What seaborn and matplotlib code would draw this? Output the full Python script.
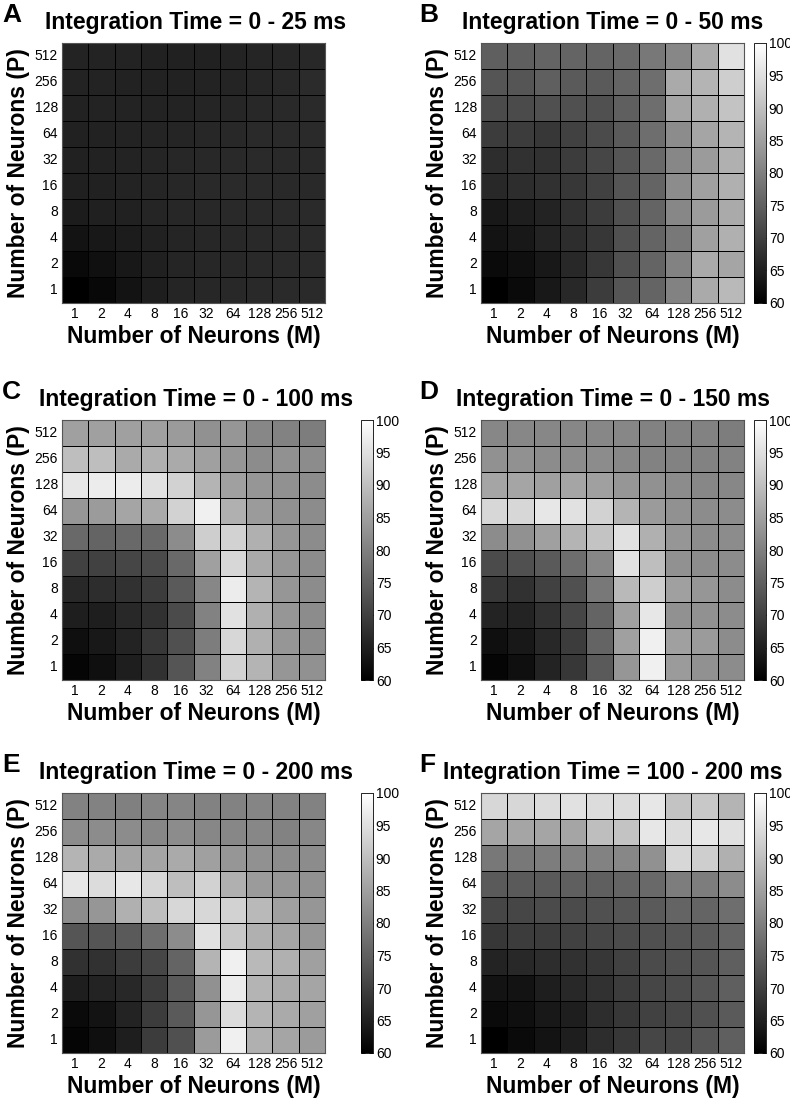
import numpy as np
import pandas as pd
import matplotlib
matplotlib.use("Agg")
import matplotlib.pyplot as plt
import seaborn as sns

sns.set_theme(style="white")
plt.rcParams['font.family'] = ['Liberation Sans', 'DejaVu Sans']
for key in ["text.color", "axes.labelcolor", "xtick.color", "ytick.color"]:
    plt.rcParams[key] = "black"

# neuron counts
n_m = [1, 2, 4, 8, 16, 32, 64, 128, 256, 512]
n_p = [512, 256, 128, 64, 32, 16, 8, 4, 2, 1]   # rows, top to bottom

titles = ["Integration Time = 0 - 25 ms", "Integration Time = 0 - 50 ms",
          "Integration Time = 0 - 100 ms", "Integration Time = 0 - 150 ms",
          "Integration Time = 0 - 200 ms", "Integration Time = 100 - 200 ms"]
letters = ["A", "B", "C", "D", "E", "F"]

# decoding performance (%), rows P = 512 ... 1, columns M = 1 ... 512
perf_a = [
    [65.5, 65.5, 65.5, 65.3, 65.2, 65.3, 65.5, 65.8, 66.0, 66.3],
    [65.5, 65.5, 65.4, 65.4, 65.4, 65.5, 65.7, 66.0, 66.3, 66.8],
    [65.4, 65.5, 65.5, 65.5, 65.6, 65.8, 66.0, 66.3, 66.5, 66.7],
    [65.2, 65.4, 65.5, 65.7, 65.9, 66.2, 66.4, 66.7, 66.6, 66.6],
    [65.2, 65.4, 65.6, 65.8, 66.1, 66.4, 66.5, 66.6, 66.5, 66.5],
    [65.0, 65.3, 65.6, 65.9, 66.2, 66.5, 66.6, 66.6, 66.5, 66.5],
    [64.5, 65.0, 65.3, 65.8, 66.1, 66.3, 66.5, 66.5, 66.6, 66.6],
    [63.0, 63.8, 64.4, 65.3, 65.9, 66.2, 66.4, 66.5, 66.6, 66.6],
    [61.5, 62.5, 63.8, 65.0, 65.8, 66.2, 66.4, 66.5, 66.6, 66.7],
    [60.0, 61.3, 63.0, 64.8, 65.8, 66.2, 66.4, 66.5, 66.6, 66.6],
]
perf_b = [
    [74.9, 74.9, 75.7, 75.7, 75.7, 76.5, 78.8, 81.2, 86.7, 95.3],
    [73.3, 73.3, 74.9, 74.1, 74.1, 75.7, 77.3, 86.7, 88.2, 92.2],
    [71.8, 71.8, 72.5, 72.5, 72.5, 74.9, 77.3, 85.9, 87.5, 90.6],
    [69.4, 69.4, 68.6, 70.2, 71.8, 74.1, 77.3, 82.0, 85.9, 88.2],
    [67.1, 67.8, 67.8, 69.4, 71.0, 73.3, 76.5, 81.2, 84.3, 87.5],
    [66.3, 67.1, 67.8, 68.6, 70.2, 73.3, 75.7, 82.0, 85.1, 87.5],
    [63.9, 64.7, 65.5, 67.8, 69.4, 72.5, 75.7, 81.2, 84.3, 86.7],
    [63.1, 63.9, 65.5, 67.1, 68.6, 72.5, 75.7, 78.8, 85.1, 87.5],
    [61.6, 62.4, 63.9, 66.3, 68.6, 72.5, 75.7, 80.4, 86.7, 85.9],
    [60.0, 61.6, 63.9, 66.3, 69.4, 73.3, 75.7, 80.4, 86.7, 89.0],
]
perf_c = [
    [85.1, 85.1, 85.1, 85.1, 84.3, 82.7, 83.5, 81.2, 80.4, 79.6],
    [89.8, 89.8, 86.7, 87.5, 86.7, 85.1, 83.5, 82.0, 82.7, 82.0],
    [96.1, 96.9, 96.9, 95.3, 92.9, 88.2, 85.1, 83.5, 82.7, 82.0],
    [83.5, 84.3, 85.9, 86.7, 92.9, 97.6, 87.5, 84.3, 82.7, 82.0],
    [76.5, 75.7, 76.5, 76.5, 82.0, 92.2, 92.9, 87.5, 83.5, 82.0],
    [70.2, 70.2, 71.0, 71.8, 76.5, 85.1, 93.7, 86.7, 83.5, 82.0],
    [66.3, 67.1, 67.8, 69.4, 74.1, 81.2, 96.9, 88.2, 83.5, 82.0],
    [64.7, 64.7, 66.3, 67.8, 71.8, 80.4, 95.3, 87.5, 83.5, 82.0],
    [62.4, 63.9, 65.5, 68.6, 72.5, 79.6, 93.7, 87.5, 83.5, 82.0],
    [60.8, 62.4, 64.7, 67.8, 73.3, 80.4, 92.9, 88.2, 83.5, 82.7],
]
perf_d = [
    [81.2, 81.2, 81.2, 81.2, 81.2, 81.2, 80.4, 80.4, 80.4, 79.6],
    [82.7, 82.7, 82.0, 82.0, 82.0, 81.2, 80.4, 80.4, 80.4, 80.4],
    [85.9, 85.9, 85.1, 85.9, 85.1, 83.5, 82.7, 82.0, 81.2, 81.2],
    [93.7, 93.7, 96.1, 95.3, 92.9, 88.2, 84.3, 82.7, 82.0, 82.0],
    [82.0, 82.7, 85.1, 88.2, 90.6, 95.3, 87.5, 83.5, 82.0, 82.0],
    [71.8, 72.5, 74.1, 77.3, 81.2, 95.3, 89.8, 82.7, 82.0, 82.0],
    [68.6, 67.8, 70.2, 72.5, 78.8, 89.0, 92.2, 85.1, 83.5, 82.0],
    [65.5, 65.5, 67.8, 71.0, 75.7, 85.1, 96.1, 82.7, 82.7, 82.0],
    [62.4, 63.9, 66.3, 69.4, 75.7, 85.1, 97.6, 85.1, 84.3, 82.0],
    [60.8, 62.4, 65.5, 68.6, 74.1, 83.5, 97.6, 84.3, 82.7, 82.0],
]
perf_e = [
    [80.4, 80.4, 80.0, 80.8, 80.8, 80.4, 80.4, 80.8, 80.4, 80.4],
    [82.0, 82.0, 82.0, 81.2, 82.0, 81.2, 81.2, 81.2, 80.4, 81.2],
    [88.2, 86.7, 85.9, 85.9, 86.7, 85.1, 83.5, 82.7, 82.0, 82.0],
    [96.1, 94.5, 96.1, 93.7, 89.8, 92.9, 87.5, 84.3, 83.5, 82.7],
    [82.0, 83.5, 87.5, 89.8, 93.7, 93.7, 92.9, 89.0, 85.1, 83.5],
    [73.3, 73.3, 74.1, 77.3, 82.0, 95.3, 91.4, 87.5, 85.9, 83.5],
    [67.8, 67.8, 69.4, 71.0, 75.7, 88.2, 97.6, 89.0, 87.5, 85.1],
    [64.7, 65.5, 66.3, 69.4, 74.1, 82.7, 96.9, 88.2, 86.7, 85.9],
    [61.6, 63.1, 65.5, 69.4, 74.1, 83.5, 94.5, 88.2, 86.7, 85.1],
    [60.8, 62.4, 64.7, 69.4, 72.5, 84.3, 97.6, 87.5, 85.9, 84.3],
]
perf_f = [
    [93.7, 93.7, 94.5, 95.3, 94.5, 94.5, 96.1, 90.6, 91.4, 88.2],
    [85.9, 85.9, 85.9, 85.9, 89.8, 90.6, 96.1, 94.5, 96.1, 95.3],
    [78.8, 78.8, 79.6, 80.4, 80.4, 81.2, 82.7, 93.7, 92.2, 87.5],
    [74.1, 74.1, 74.1, 74.9, 74.9, 75.7, 76.5, 79.6, 79.6, 82.0],
    [71.0, 71.0, 71.8, 71.8, 72.5, 73.3, 74.1, 75.7, 75.7, 77.3],
    [68.6, 69.4, 69.4, 70.2, 71.0, 71.8, 72.5, 73.3, 74.1, 75.7],
    [65.5, 66.3, 67.1, 67.8, 68.6, 70.2, 71.8, 72.5, 73.3, 74.9],
    [63.1, 63.1, 64.7, 66.3, 67.8, 69.4, 71.0, 71.8, 73.3, 74.9],
    [61.6, 62.4, 63.9, 64.7, 67.1, 68.6, 70.2, 71.0, 72.5, 74.1],
    [60.0, 61.6, 63.1, 64.7, 67.1, 68.6, 71.0, 71.0, 73.3, 74.9],
]
panels = [perf_a, perf_b, perf_c, perf_d, perf_e, perf_f]

W, H = 790, 1100
fig = plt.figure(figsize=(W / 100, H / 100), dpi=100)

def rect(l, t, w, h):
    return [l / W, 1 - (t + h) / H, w / W, h / H]

# pixel layout: heatmap left/top, colorbar left (None = no colorbar)
lefts = [62, 481, 62, 481, 62, 481]
tops = [43, 43, 420, 420, 793, 793]
cb_lefts = [None, 754, 361, 754, 361, 754]
title_x = [196, 613, 196, 613, 196, 613]
letter_x = [2, 419, 2, 419, 2, 419]
hw, hh = 263, 260

for i, vals in enumerate(panels):
    df = pd.DataFrame(vals, index=n_p, columns=n_m)
    ax = fig.add_axes(rect(lefts[i], tops[i], hw, hh))
    if cb_lefts[i] is not None:
        cax = fig.add_axes(rect(cb_lefts[i], tops[i], 12, hh))
        sns.heatmap(df, ax=ax, cmap="gray", vmin=60, vmax=100,
                    linewidths=0.6, linecolor="black", cbar_ax=cax,
                    cbar_kws={"ticks": [60, 65, 70, 75, 80, 85, 90, 95, 100]})
        cb = ax.collections[0].colorbar
        cb.outline.set_edgecolor("black")
        cb.outline.set_linewidth(0.6)
        cax.tick_params(labelsize=10, length=3, width=0.6, direction="in",
                        pad=2, left=True, right=True)
    else:
        sns.heatmap(df, ax=ax, cmap="gray", vmin=60, vmax=100,
                    linewidths=0.6, linecolor="black", cbar=False)
    ax.tick_params(axis="both", labelsize=10, length=0, pad=3)
    plt.setp(ax.get_yticklabels(), rotation=0)
    plt.setp(ax.get_xticklabels(), rotation=0)
    for s in ax.spines.values():
        s.set_visible(True)
        s.set_color("#555555")
        s.set_linewidth(0.8)
    ax.set_xlabel("Number of Neurons (M)", fontsize=16.5, fontweight="bold", labelpad=3)
    ax.set_ylabel("Number of Neurons (P)", fontsize=16.5, fontweight="bold", labelpad=3)
    fig.text(title_x[i] / W, 1 - (tops[i] - 14) / H, titles[i], fontsize=16.5,
             fontweight="bold", ha="center", va="baseline")
    fig.text(letter_x[i] / W, 1 - (tops[i] - 21) / H, letters[i], fontsize=19,
             fontweight="bold", ha="left", va="baseline")

fig.savefig("out.png", dpi=100)
